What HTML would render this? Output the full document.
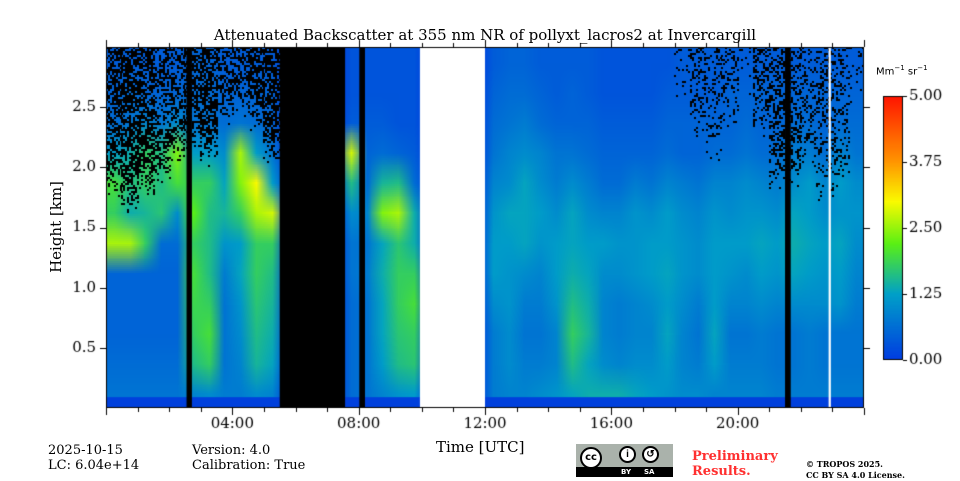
<!DOCTYPE html>
<html><head><meta charset="utf-8"><style>
body{margin:0;background:#fff;width:960px;height:480px;overflow:hidden;position:relative;font-family:"DejaVu Serif","Liberation Serif",serif;}
.t{position:absolute;white-space:nowrap;color:#000;}
</style></head><body>
<div class="t" style="left:0;width:970px;text-align:center;top:26px;font-size:15px;">Attenuated Backscatter at 355 nm NR of pollyxt_lacros2 at Invercargill</div>
<canvas id="c" width="960" height="480" style="position:absolute;left:0;top:0"></canvas>
<div class="t" style="left:-4px;top:218px;font-size:15px;transform:rotate(-90deg);width:120px;text-align:center;">Height [km]</div>
<div class="t" style="left:436px;top:438px;font-size:15px;">Time [UTC]</div>
<div class="t" style="left:876px;top:64px;font-size:10px;font-family:'DejaVu Sans',sans-serif;">Mm<sup style="font-size:7px">−1</sup> sr<sup style="font-size:7px">−1</sup></div>
<div class="t" style="left:48px;top:443px;font-size:13px;line-height:15px;">2025-10-15<br>LC: 6.04e+14</div>
<div class="t" style="left:192px;top:443px;font-size:13px;line-height:15px;">Version: 4.0<br>Calibration: True</div>
<div style="position:absolute;left:576px;top:444px;width:97px;height:33px;background:#aab2ab;">
 <div style="position:absolute;left:0;top:23px;width:97px;height:10px;background:#000;color:#fff;font:bold 7px 'DejaVu Sans',sans-serif;"><span style="position:absolute;left:45px;top:1px">BY</span><span style="position:absolute;left:68px;top:1px">SA</span></div>
 <div style="position:absolute;left:4px;top:3px;width:22px;height:22px;border-radius:50%;background:#fff;border:2px solid #000;box-sizing:border-box;font:bold 10px 'DejaVu Sans',sans-serif;text-align:center;line-height:18px;">cc</div>
 <div style="position:absolute;left:43px;top:2px;width:17px;height:17px;border-radius:50%;background:#fff;border:2px solid #000;box-sizing:border-box;font:bold 10px sans-serif;text-align:center;line-height:13px;">i</div>
 <div style="position:absolute;left:66px;top:2px;width:17px;height:17px;border-radius:50%;background:#fff;border:2px solid #000;box-sizing:border-box;font:bold 10px sans-serif;text-align:center;line-height:13px;">↺</div>
</div>
<div class="t" style="left:692px;top:449px;font-size:13px;line-height:15px;font-weight:bold;color:#ff3030;">Preliminary<br>Results.</div>
<div class="t" style="left:806px;top:459px;font-size:8px;line-height:11px;font-weight:bold;">© TROPOS 2025.<br>CC BY SA 4.0 License.</div>
<script>
// data: 48 half-hour columns (0..24 h), 12 height bins (0..3 km), rows listed bottom to top
const timeStep = 0.5;
const heightStep = 0.25;
const row0 = [.7,.7,.7,.7,.7,.9,1.0,.8,.8,1.0,.9,0,0,0,0,.6,.7,.9,1.1,1.2,0,0,0,0,.8,.9,.9,1.0,1.1,1.3,1.4,1.4,1.4,1.3,1.2,1.1,1.0,1.0,.9,.9,.9,.9,.8,.8,.8,.8,.8,.8];
const row1 = [.6,.6,.6,.6,.6,1.6,1.8,.7,.9,1.5,1.3,0,0,0,0,.6,.7,1.2,1.6,1.7,0,0,0,0,.8,1.0,.8,.8,.9,1.6,1.3,1.0,.9,1.0,1.0,1.2,.9,.8,1.2,.8,.8,.8,.7,.7,.8,.7,.7,.7];
const row2 = [.5,.5,.5,.5,.5,1.8,2.0,.7,1.0,1.6,1.4,0,0,0,0,.6,.7,1.3,1.7,1.8,0,0,0,0,.8,1.0,.7,.7,.9,1.8,1.5,.9,.8,.9,.9,1.3,.9,.7,1.3,.7,.7,.8,.7,.7,.8,.7,.7,.7];
const row3 = [.5,.5,.5,.5,.5,1.9,1.8,.7,1.1,1.7,1.5,0,0,0,0,.6,.7,1.3,1.8,2.0,0,0,0,0,1.0,1.1,.8,.8,1.1,1.6,1.4,.9,.8,.9,1.0,1.2,1.0,.8,1.2,.9,.9,1.0,.9,1.0,1.0,1.0,1.1,.8];
const row4 = [.5,.5,.5,.5,.5,2.0,1.6,.8,1.3,1.8,1.6,0,0,0,0,.7,.8,1.4,1.8,1.8,0,0,0,0,1.2,1.1,1.0,.9,1.2,1.4,1.3,1.0,1.0,1.1,1.2,1.3,1.1,1.0,1.2,1.1,1.0,1.2,1.1,1.3,1.2,1.1,1.2,.9];
const row5 = [2.6,2.6,1.8,.6,.6,1.8,1.6,1.1,1.2,1.8,1.8,0,0,0,0,.7,.7,1.3,1.7,1.4,0,0,0,0,1.2,1.2,1.3,1.1,1.2,1.3,1.2,1.2,1.1,1.1,1.2,1.2,1.1,1.0,1.2,1.2,1.2,1.3,1.2,1.4,1.3,1.2,1.3,1.0];
const row6 = [1.8,1.4,1.5,1.7,1.0,2.2,1.6,1.5,1.8,2.6,2.8,0,0,0,0,1.0,.9,2.4,2.6,1.4,0,0,0,0,1.1,1.3,1.3,1.2,1.0,1.3,1.0,.9,.9,1.1,1.0,1.2,1.0,.9,1.1,1.0,1.1,1.1,1.0,1.3,1.2,1.0,1.1,1.1];
const row7 = [2.0,1.6,1.8,1.6,2.0,1.8,1.8,1.3,2.4,3.0,1.2,0,0,0,0,1.6,.6,1.5,1.6,.6,0,0,0,0,.9,1.0,1.3,1.0,.8,1.0,.8,.6,.6,.8,.7,.9,.8,.7,.9,.9,1.0,.9,.8,1.0,1.2,.9,1.2,1.0];
const row8 = [1.2,1.4,1.8,1.6,2.4,1.2,1.2,1.0,2.6,1.2,.7,0,0,0,0,2.8,.5,.6,.5,.4,0,0,0,0,.7,.9,1.0,.9,.7,.7,.6,.5,.5,.5,.5,.6,.5,.5,.6,.6,.7,.6,.6,.8,.8,.6,.9,.7];
const row9 = [.6,.7,.9,.7,1.0,.7,.7,.6,.7,.6,.5,0,0,0,0,.4,.4,.4,.3,.3,0,0,0,0,.6,.7,.8,.6,.5,.5,.5,.4,.4,.4,.4,.5,.5,.5,.5,.5,.6,.5,.5,.6,.6,.5,.6,.6];
const row10 = [.5,.6,.5,.5,.5,.6,.6,.5,.5,.5,.5,0,0,0,0,.3,.3,.3,.3,.3,0,0,0,0,.5,.6,.6,.5,.4,.5,.4,.3,.3,.3,.3,.4,.4,.4,.4,.5,.5,.5,.5,.5,.5,.5,.5,.5];
const row11 = [.4,.4,.4,.4,.4,.5,.5,.4,.4,.4,.4,0,0,0,0,.3,.3,.3,.3,.3,0,0,0,0,.4,.5,.5,.4,.4,.4,.4,.3,.3,.3,.3,.3,.4,.4,.4,.4,.4,.4,.4,.4,.4,.4,.4,.4];
const rows = [row0,row1,row2,row3,row4,row5,row6,row7,row8,row9,row10,row11];
// height (km) above which noisy (black speckle) signal starts, and speckle density
const noiseFrom = [1.7,1.6,1.7,1.8,2.0,2.1,2.0,2.3,2.4,2.3,2.0,9,9,9,9,9,9,9,9,9,9,9,9,9,9,9,9,9,9,9,9,9,9,9,9,9,2.5,2.2,2.0,2.3,2.6,2.2,1.8,1.8,1.9,1.7,1.8,2.5];
const noiseDensity = [.45,.5,.5,.35,.35,.45,.5,.35,.4,.5,.5,0,0,0,0,0,0,0,0,0,0,0,0,0,0,0,0,0,0,0,0,0,0,0,0,0,.12,.25,.15,.2,.08,.3,.35,.3,.2,.25,.2,.1];
// data gaps: start/end hours and type
const gapStart = [2.55,5.5,8.02,9.94,21.5,22.88];
const gapEnd   = [2.72,7.57,8.2,12.0,21.68,22.95];
const gapColor = ['#000','#000','#000','#fff','#000','#fff'];
const xTicks = [0,1,2,3,4,5,6,7,8,9,10,11,12,13,14,15,16,17,18,19,20,21,22,23,24];
const xLabels = ['04:00','08:00','12:00','16:00','20:00'];
const xLabelHours = [4,8,12,16,20];
const yTicks = [0.5,1.0,1.5,2.0,2.5];
const cbTicks = [0,1.25,2.5,3.75,5];

const L=106,R=864,T=47,B=408, H0=0,H1=3,T0=0,T1=24;
const xs=t=>L+(t-T0)/(T1-T0)*(R-L);
const ys=h=>B-(h-H0)/(H1-H0)*(B-T);
const stops=[[0,[0,60,225]],[1.25,[0,160,200]],[2.2,[90,240,20]],[3.0,[250,250,0]],[3.75,[255,150,0]],[5,[255,20,0]]];
function cmap(v){
  if(v>5.1) return [255,255,255];
  v=Math.max(0,Math.min(5,v));
  for(let i=1;i<stops.length;i++){ if(v<=stops[i][0]){const a=stops[i-1],b=stops[i],f=(v-a[0])/(b[0]-a[0]);return a[1].map((c,k)=>Math.round(c+(b[1][k]-c)*f));}}
  return stops[stops.length-1][1];
}
const cv=document.getElementById('c'),ctx=cv.getContext('2d');
const nc=row0.length,nr=rows.length;
const sm=document.createElement('canvas');sm.width=nc;sm.height=nr;
const sx=sm.getContext('2d');const img=sx.createImageData(nc,nr);
for(let r=0;r<nr;r++)for(let c=0;c<nc;c++){const col=cmap(rows[r][c]);const p=((nr-1-r)*nc+c)*4;img.data[p]=col[0];img.data[p+1]=col[1];img.data[p+2]=col[2];img.data[p+3]=255;}
sx.putImageData(img,0,0);
ctx.imageSmoothingEnabled=true;
ctx.save();ctx.beginPath();ctx.rect(L,T,R-L,B-T);ctx.clip();
ctx.drawImage(sm,0,0,nc,nr,L,T,R-L,B-T);
function hash(a,b){let h=(a*374761393+b*668265263)^0x5bd1e995;h=(h^(h>>>13))*1274126177;h=h^(h>>>16);return (h>>>0)/4294967296;}
ctx.fillStyle='#000';
for(let c=0;c<nc;c++){ if(noiseDensity[c]<=0) continue;
  const x0=xs(c*timeStep),x1=xs((c+1)*timeStep),yTop=ys(noiseFrom[c]);
  for(let x=Math.floor(x0);x<x1;x+=2)for(let y=T;y<yTop;y+=2){
    const ramp=Math.min(1,(yTop-y)/40);
    if(hash(x,y)<noiseDensity[c]*ramp*1.3) ctx.fillRect(x,y,2,2);
  }}
ctx.fillStyle='rgb(0,64,220)';ctx.fillRect(L,ys(0.09),R-L,B-ys(0.09));
for(let i=0;i<gapStart.length;i++){ctx.fillStyle=gapColor[i];ctx.fillRect(xs(gapStart[i]),T,xs(gapEnd[i])-xs(gapStart[i]),B-T);}
ctx.restore();
ctx.strokeStyle='#000';ctx.lineWidth=1;ctx.strokeRect(L+0.5,T+0.5,R-L-1,B-T-1);
ctx.beginPath();
xTicks.forEach(t=>{const x=Math.round(xs(t))+0.5,len=(t%4===0)?7:4;ctx.moveTo(x,B);ctx.lineTo(x,B+len);ctx.moveTo(x,T);ctx.lineTo(x,T-len);});
yTicks.forEach(h=>{const y=Math.round(ys(h))+0.5;ctx.moveTo(L,y);ctx.lineTo(L-6,y);ctx.moveTo(R,y);ctx.lineTo(R+6,y);});
ctx.stroke();
ctx.fillStyle='#000';ctx.font='15px "DejaVu Serif","Liberation Serif",serif';
ctx.textAlign='center';ctx.textBaseline='top';
xLabels.forEach((s,i)=>ctx.fillText(s,xs(xLabelHours[i]),417));
ctx.textAlign='right';ctx.textBaseline='middle';
yTicks.forEach(h=>ctx.fillText(h.toFixed(1),96,ys(h)));
const CL=883,CR=903,CT=96,CB=360;
for(let y=CT;y<CB;y++){const v=(CB-y-0.5)/(CB-CT)*5;const c=cmap(v);ctx.fillStyle=`rgb(${c[0]},${c[1]},${c[2]})`;ctx.fillRect(CL,y,CR-CL,1);}
ctx.strokeRect(CL+0.5,CT+0.5,CR-CL-1,CB-CT-1);
ctx.textAlign='left';ctx.fillStyle='#000';ctx.beginPath();
cbTicks.forEach(v=>{const y=Math.round(CB-v/5*(CB-CT))+0.5;ctx.moveTo(CR,y);ctx.lineTo(CR+4,y);ctx.fillText(v.toFixed(2),909,y);});
ctx.stroke();


</script>
</body></html>
